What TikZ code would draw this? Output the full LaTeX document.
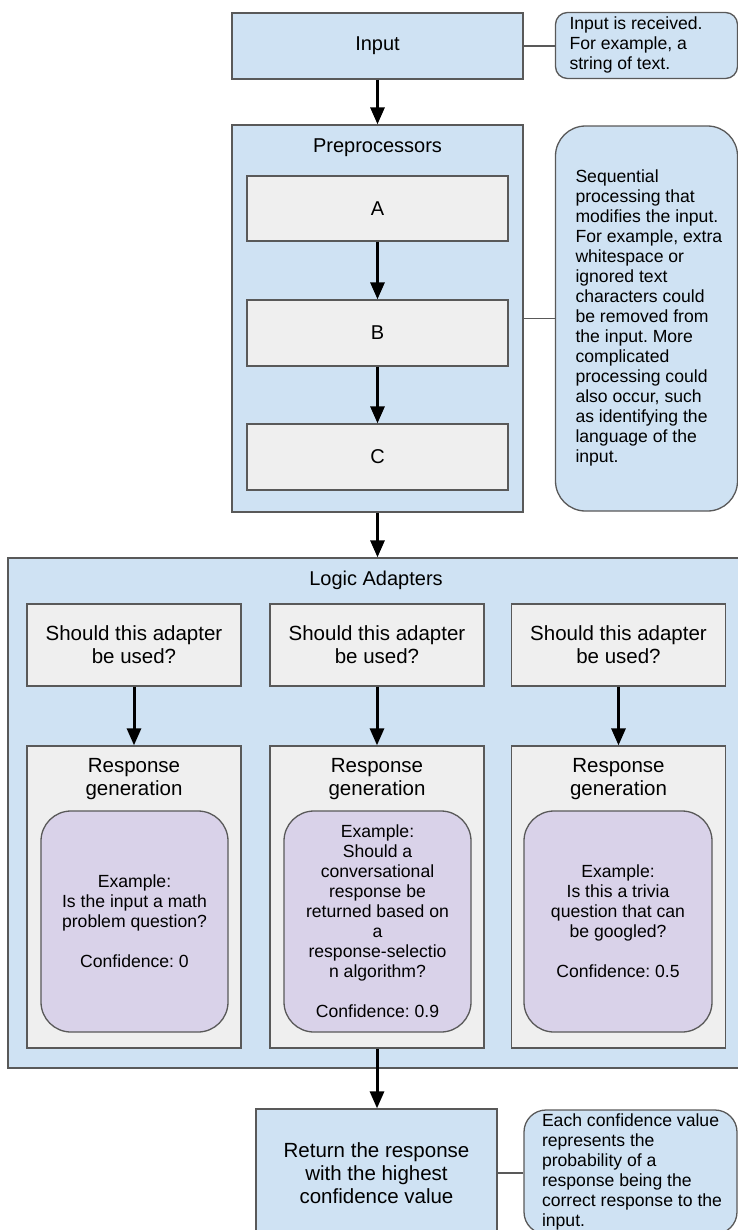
\documentclass[tikz,border=0pt]{standalone}
\usepackage{fontspec}
\setmainfont{Liberation Sans}
\usetikzlibrary{arrows.meta}
\definecolor{bluefill}{HTML}{CFE2F3}
\definecolor{grayfill}{HTML}{EFEFEF}
\definecolor{purplefill}{HTML}{D9D2E9}
\definecolor{edge}{HTML}{595959}
\frenchspacing
% left-aligned block of fixed width; longer lines run past it without wrapping
\newcommand\notelines[2]{\makebox[#1][l]{\begin{tabular}{@{}l@{}}#2\end{tabular}}}

\begin{document}
\begin{tikzpicture}[x=1bp,y=-1bp,
  base/.style={draw=edge, line width=1.3bp, inner sep=0pt, align=center},
  bluebox/.style={base, fill=bluefill},
  graybox/.style={base, fill=grayfill},
  purplebox/.style={base, fill=purplefill, rounded corners=30bp,
    font=\fontsize{17.6bp}{20bp}\selectfont},
  note/.style={draw=edge, line width=1.3bp, fill=bluefill,
    inner ysep=0pt, font=\fontsize{17.6bp}{20bp}\selectfont},
  flow/.style={-{Triangle[length=17bp,width=14bp]}, line width=3bp, black},
  link/.style={draw=edge, line width=1.2bp},
  headtext/.style={font=\fontsize{20bp}{23bp}\selectfont},
  colhead/.style={font=\fontsize{20.5bp}{23bp}\selectfont},
  title/.style={inner sep=0pt, align=center}
]
\useasboundingbox (0,0) rectangle (738,1230);
\clip (0,0) rectangle (738,1230);

% --- input stage ---
\node[bluebox, headtext, minimum width=291bp, minimum height=66bp] (input) at (377.5,46) {Input};
\node[note, rounded corners=12bp, inner xsep=14bp, minimum height=66bp]
  (inputnote) at (646.5,45.5) {\notelines{154bp}{Input is received.\\For example, a\\string of text.}};

% --- preprocessors ---
\node[bluebox, minimum width=291bp, minimum height=387bp] (pre) at (377.5,318.5) {};
\node[title, headtext] (pretitle) at (377.5,148) {Preprocessors};
\node[graybox, headtext, minimum width=261bp, minimum height=65bp] (pa) at (377.5,208.5) {A};
\node[graybox, headtext, minimum width=261bp, minimum height=66bp] (pb) at (377.5,333) {B};
\node[graybox, headtext, minimum width=261bp, minimum height=66bp] (pc) at (377.5,457) {C};
\node[note, rounded corners=30bp, inner xsep=20bp, minimum height=385bp]
  (prenote) at (646.5,318.5) {\notelines{142bp}{Sequential\\processing that\\modifies the input.\\For example, extra\\whitespace or\\ignored text\\characters could\\be removed from\\the input. More\\complicated\\processing could\\also occur, such\\as identifying the\\language of the\\input.}};

% --- logic adapters ---
\node[bluebox, minimum width=737bp, minimum height=510bp] (logic) at (376.5,813) {};
\node[title, headtext] (logictitle) at (376,580) {Logic Adapters};

\foreach \i/\cx in {1/134, 2/377, 3/618.5} {
  \node[graybox, colhead, minimum width=214bp, minimum height=82bp] (use\i) at (\cx,645) {Should this adapter\\be used?};
  \node[graybox, minimum width=214bp, minimum height=302bp] (gen\i) at (\cx,897) {};
  \node[title, colhead] (gentitle\i) at (\cx,779.5) {Response\\generation};
}
\node[purplebox, minimum width=187bp, minimum height=221bp] (ex1) at (134.5,921.5)
  {Example:\\Is the input a math\\problem question?\\[20bp]Confidence: 0};
\node[purplebox, minimum width=187bp, minimum height=221bp] (ex2) at (377.5,921.5)
  {Example:\\Should a\\conversational\\response be\\returned based on\\a\\response-selectio\\n algorithm?\\[20bp]Confidence: 0.9};
\node[purplebox, minimum width=188bp, minimum height=221bp] (ex3) at (618,921.5)
  {Example:\\Is this a trivia\\question that can\\be googled?\\[20bp]Confidence: 0.5};

% --- final selection ---
\node[bluebox, font=\fontsize{20.5bp}{23bp}\selectfont, minimum width=241bp, minimum height=128bp]
  (ret) at (376.5,1173) {Return the response\\with the highest\\confidence value};
\node[note, rounded corners=22bp, inner xsep=18bp, minimum height=124bp]
  (retnote) at (630.5,1172) {\notelines{177bp}{Each confidence value\\represents the\\probability of a\\response being the\\correct response to the\\input.}};

% --- connectors ---
\draw[flow] (input.south) -- (pre.north);
\draw[flow] (pa.south) -- (pb.north);
\draw[flow] (pb.south) -- (pc.north);
\draw[flow] (pre.south) -- (pre.south |- logic.north);
\foreach \i in {1,2,3} {
  \draw[flow] (use\i.south) -- (gen\i.north);
}
\draw[flow] (gen2.south) -- (gen2.south |- ret.north);

\draw[link] (input.east) -- (input.east -| inputnote.west);
\draw[link] (pre.east) -- (pre.east -| prenote.west);
\draw[link] (ret.east) -- (ret.east -| retnote.west);
\end{tikzpicture}
\end{document}
